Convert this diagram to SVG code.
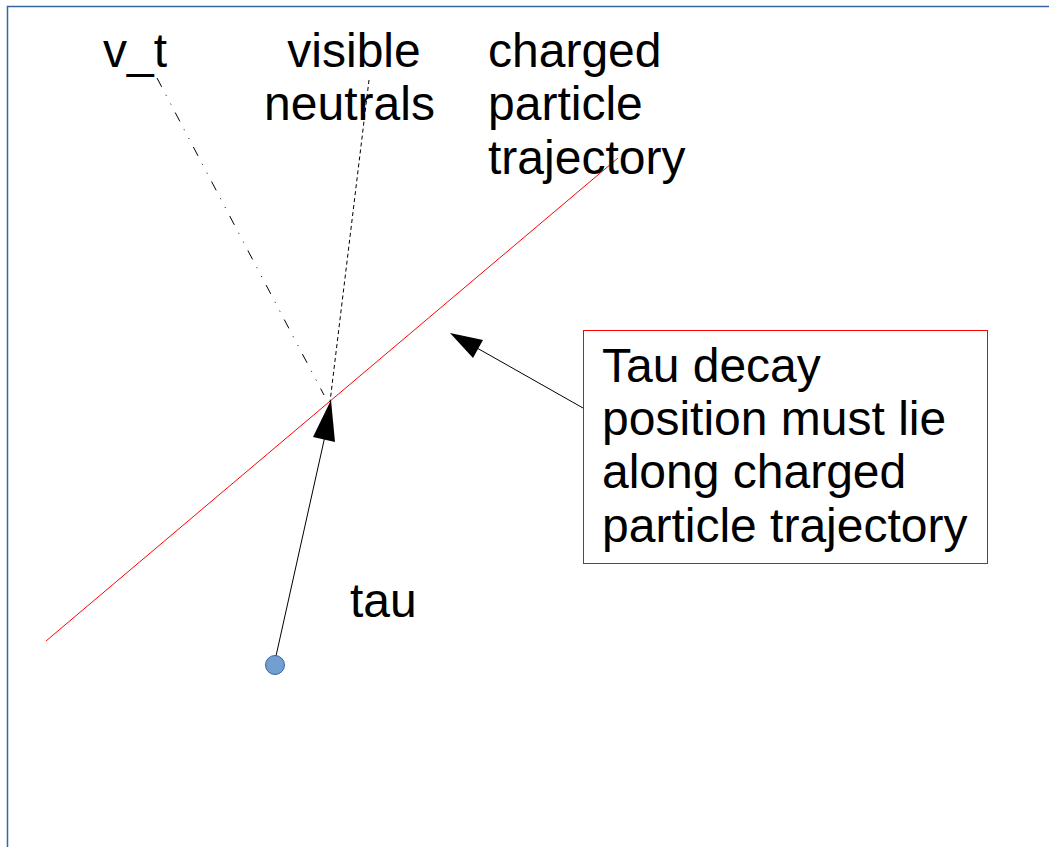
<svg xmlns="http://www.w3.org/2000/svg" width="1049" height="847" viewBox="0 0 1049 847">
<style>
text{font-family:"Liberation Sans",Arial,sans-serif;font-size:48px;fill:#000}
.frame{stroke:#3465a4;stroke-width:1.5;fill:none}
.con{stroke:#000;stroke-width:1;fill:none}
</style>
<rect width="1049" height="847" fill="#fff"/>
<path class="frame" d="M7.5,847 V6.5 H1049"/>
<g id="connectors">
<line x1="46" y1="641" x2="618" y2="158" stroke="#ff0000" stroke-width="1"/>
<line class="con" x1="157" y1="78" x2="324" y2="395" stroke-dasharray="10,9,1,9,1,9"/>
<line class="con" x1="369" y1="80" x2="330" y2="402" stroke-dasharray="4,3"/>
<line class="con" x1="276" y1="656" x2="325" y2="436"/>
<polygon points="331,400 313,437 335,442" fill="#000"/>
<line class="con" x1="583" y1="408" x2="477" y2="348"/>
<polygon points="450,333 483,340 473,358" fill="#000"/>
</g>
<g id="tau-origin"><circle cx="275" cy="665" r="9.5" fill="#729fcf" stroke="#3465a4" stroke-width="1"/></g>
<g id="label-vt"><text x="103" y="67">v_t</text></g>
<g id="label-neutrals"><text x="354" y="67" text-anchor="middle">visible</text><text x="349.5" y="120" text-anchor="middle">neutrals</text></g>
<g id="label-charged"><text x="488" y="67">charged</text><text x="488" y="120">particle</text><text x="488" y="174">trajectory</text></g>
<g id="label-tau"><text x="350" y="617">tau</text></g>
<g id="note">
<rect x="583.5" y="330.5" width="404" height="233" fill="#fff" stroke="#ff0000" stroke-width="1"/>
<text x="602" y="382">Tau decay</text>
<text x="602" y="435">position must lie</text>
<text x="602" y="488">along charged</text>
<text x="602" y="542">particle trajectory</text>
</g>
</svg>
